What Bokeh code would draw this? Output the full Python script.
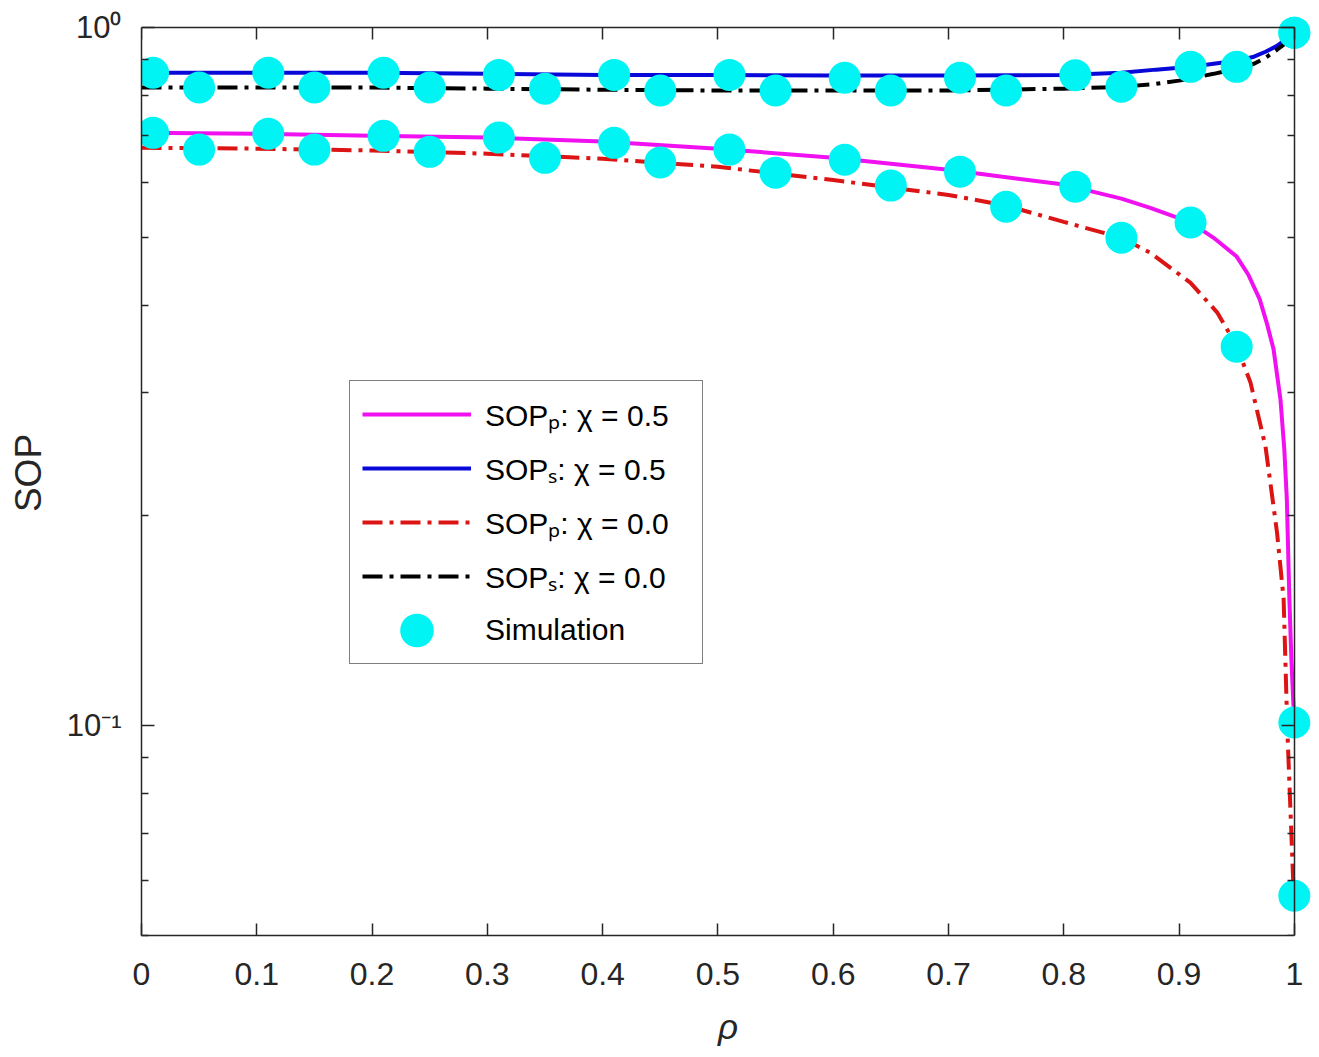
from bokeh.plotting import figure
from bokeh.models import (Range1d, FixedTicker, LinearAxis, LogAxis, Legend,
                          LegendItem, CustomJSTickFormatter)
from bokeh.embed import file_html
from bokeh.resources import INLINE

# ---- analytical curves -------------------------------------------------
rho_p05 = [0, 0.1, 0.2, 0.3, 0.4, 0.5, 0.6, 0.7, 0.8, 0.85, 0.875, 0.91, 0.93,
           0.95, 0.96, 0.97, 0.976, 0.982, 0.988, 0.9913, 0.9935, 0.9957,
           0.9975, 0.999, 1.0]
sop_p05 = [0.707, 0.705, 0.700, 0.696, 0.687, 0.671, 0.651, 0.626, 0.596,
           0.569, 0.552, 0.526, 0.500, 0.470, 0.443, 0.408, 0.378, 0.346,
           0.293, 0.249, 0.211, 0.152, 0.124, 0.109, 0.101]

rho_s05 = [0, 0.2, 0.3, 0.4, 0.5, 0.6, 0.7, 0.8, 0.85, 0.88, 0.91, 0.93, 0.95,
           0.965, 0.975, 0.985, 0.992, 1.0]
sop_s05 = [0.862, 0.862, 0.859, 0.856, 0.856, 0.854, 0.854, 0.856, 0.862,
           0.871, 0.879, 0.888, 0.897, 0.909, 0.924, 0.942, 0.961, 0.990]

rho_p00 = [0, 0.1, 0.2, 0.3, 0.4, 0.5, 0.6, 0.7, 0.75, 0.8, 0.85, 0.875, 0.91,
           0.933, 0.95, 0.962, 0.975, 0.985, 0.9907, 0.994, 0.997, 0.999, 1.0]
sop_p00 = [0.673, 0.671, 0.667, 0.660, 0.649, 0.632, 0.605, 0.576, 0.556,
           0.527, 0.500, 0.476, 0.431, 0.391, 0.350, 0.310, 0.251, 0.189,
           0.152, 0.098, 0.073, 0.060, 0.056]

rho_s00 = [0, 0.2, 0.3, 0.4, 0.5, 0.6, 0.7, 0.8, 0.85, 0.88, 0.9, 0.93, 0.95,
           0.965, 0.975, 0.985, 0.992, 1.0]
sop_s00 = [0.821, 0.821, 0.818, 0.815, 0.813, 0.813, 0.813, 0.818, 0.823,
           0.831, 0.840, 0.859, 0.874, 0.888, 0.906, 0.930, 0.949, 0.984]

# ---- Monte-Carlo simulation points --------------------------------------
rho_sim_05 = [0.01, 0.11, 0.21, 0.31, 0.41, 0.51, 0.61, 0.71, 0.81, 0.91, 1.0]
rho_sim_00 = [0.05, 0.15, 0.25, 0.35, 0.45, 0.55, 0.65, 0.75, 0.85, 0.95, 1.0]
sim_p05 = [0.707, 0.705, 0.700, 0.696, 0.684, 0.669, 0.647, 0.622, 0.592, 0.526, 0.101]
sim_s05 = [0.862, 0.862, 0.862, 0.856, 0.856, 0.856, 0.848, 0.848, 0.855, 0.879, 0.984]
sim_p00 = [0.669, 0.669, 0.664, 0.651, 0.641, 0.620, 0.594, 0.554, 0.500, 0.349, 0.057]
sim_s00 = [0.821, 0.821, 0.821, 0.818, 0.813, 0.813, 0.813, 0.813, 0.823, 0.879, 0.984]

# ---- ticks and labels ---------------------------------------------------
x_ticks = [0, 0.1, 0.2, 0.3, 0.4, 0.5, 0.6, 0.7, 0.8, 0.9, 1.0]
y_major = [0.1, 1.0]
y_minor = [0.05, 0.06, 0.07, 0.08, 0.09, 0.2, 0.3, 0.4, 0.5, 0.6, 0.7, 0.8, 0.9]
y_tick_labels = ["10\u207b\u00b9", "10\u2070"]

series_labels = ["SOP\u209a: \u03c7 = 0.5", "SOP\u209b: \u03c7 = 0.5",
                 "SOP\u209a: \u03c7 = 0.0", "SOP\u209b: \u03c7 = 0.0", "Simulation"]

FONT = "Liberation Sans"
INK = "#262626"
MAGENTA = "#f010f0"
BLUE = "#0808d8"
RED = "#dc1414"
BLACK = "#000000"
CYAN = "#00f4f4"
DASHDOT = "20 7 4 7"

p = figure(frame_width=1173, frame_height=925,
           x_range=Range1d(0, 1.0175), y_range=Range1d(0.05, 1.0587),
           y_axis_type="log", output_backend="svg", toolbar_location=None,
           min_border_left=141, min_border_right=5, min_border_top=10,
           min_border_bottom=122)
p.grid.visible = False
p.outline_line_color = None
p.background_fill_color = "white"
p.border_fill_color = "white"

x_ticker = FixedTicker(ticks=x_ticks, minor_ticks=[])
y_ticker = FixedTicker(ticks=y_major, minor_ticks=y_minor)
blank = CustomJSTickFormatter(code="return '';")


def style_axis(ax, major_in, minor_in):
    ax.axis_line_color = INK
    ax.axis_line_width = 1.5
    ax.major_tick_line_color = INK
    ax.major_tick_line_width = 1.5
    ax.major_tick_in = major_in
    ax.major_tick_out = 0
    ax.minor_tick_line_color = INK
    ax.minor_tick_line_width = 1.5
    ax.minor_tick_in = minor_in
    ax.minor_tick_out = 0


def hide_labels(ax):
    ax.formatter = blank
    ax.major_label_text_font_size = "2px"
    ax.major_label_standoff = 0


# bottom axis
xa = p.xaxis[0]
xa.ticker = x_ticker
xa.formatter = CustomJSTickFormatter(code="return String(Math.round(tick * 10) / 10);")
xa.bounds = (0, 1)
style_axis(xa, 12, 0)
xa.major_label_text_font = FONT
xa.major_label_text_font_size = "32px"
xa.major_label_text_color = INK
xa.major_label_standoff = 27
xa.axis_label = "\u03c1"
xa.axis_label_text_font = FONT
xa.axis_label_text_font_style = "italic"
xa.axis_label_text_font_size = "35px"
xa.axis_label_text_color = INK
xa.axis_label_standoff = 19

# left axis: powers of ten with superscript exponents
ya = p.yaxis[0]
ya.ticker = y_ticker
ya.bounds = (0.05, 1.0)
style_axis(ya, 13, 7)
ya.formatter = CustomJSTickFormatter(
    args=dict(vals=y_major, labels=y_tick_labels),
    code="const i = vals.findIndex(v => Math.abs(v - tick) < 1e-9 * v);"
         "return i >= 0 ? labels[i] : '';")
ya.major_label_text_font = FONT
ya.major_label_text_font_size = "31px"
ya.major_label_text_color = INK
ya.major_label_standoff = 20
ya.axis_label = "SOP"
ya.axis_label_text_font = FONT
ya.axis_label_text_font_style = "normal"
ya.axis_label_text_font_size = "37px"
ya.axis_label_text_color = INK
ya.axis_label_standoff = 15

# top and right box edges with inward ticks
top = LinearAxis(ticker=x_ticker, fixed_location=1.0, bounds=(0, 1))
style_axis(top, 12, 0)
hide_labels(top)
p.add_layout(top, "above")

right = LogAxis(ticker=y_ticker, fixed_location=1.0, bounds=(0.05, 1.0))
style_axis(right, 13, 7)
hide_labels(right)
p.add_layout(right, "right")

# curves
r_p05 = p.line(rho_p05, sop_p05, line_color=MAGENTA, line_width=4)
r_s05 = p.line(rho_s05, sop_s05, line_color=BLUE, line_width=4)
r_p00 = p.line(rho_p00, sop_p00, line_color=RED, line_width=4, line_dash=DASHDOT)
r_s00 = p.line(rho_s00, sop_s00, line_color=BLACK, line_width=4, line_dash=DASHDOT)

# simulation markers
sim_kw = dict(width=32, height=32, width_units="screen", height_units="screen",
              fill_color=CYAN, line_color=None)
r_sim = p.ellipse(rho_sim_05, sim_s05, **sim_kw)
p.ellipse(rho_sim_00, sim_s00, **sim_kw)
p.ellipse(rho_sim_05, sim_p05, **sim_kw)
p.ellipse(rho_sim_00, sim_p00, **sim_kw)

legend = Legend(
    items=[LegendItem(label=series_labels[0], renderers=[r_p05]),
           LegendItem(label=series_labels[1], renderers=[r_s05]),
           LegendItem(label=series_labels[2], renderers=[r_p00]),
           LegendItem(label=series_labels[3], renderers=[r_s00]),
           LegendItem(label=series_labels[4], renderers=[r_sim])],
    location=(208, 271), margin=0, padding=12, spacing=12,
    glyph_width=109, glyph_height=42, label_height=42, label_width=205,
    label_standoff=14, label_text_font=FONT, label_text_font_size="30px",
    label_text_color="black", border_line_color="black", border_line_width=1.5,
    background_fill_color="white", background_fill_alpha=1.0)
p.add_layout(legend)

open("out.html", "w").write(file_html(p, INLINE))
